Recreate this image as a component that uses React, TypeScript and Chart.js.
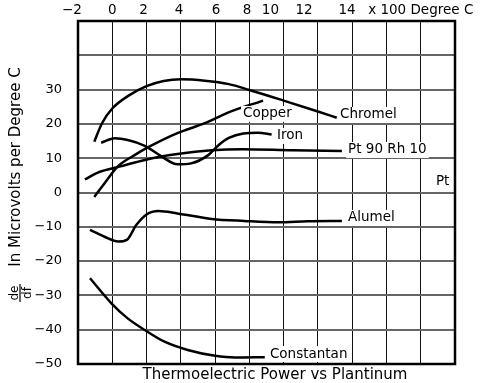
import React, { useEffect, useRef } from 'react';
import { Chart, registerables } from 'chart.js';

Chart.register(...registerables);

// ---- series values (x in 100 Degree C, y in microvolts per Degree C) ----
const chromelX = [-1.05, -0.6, 0, 1, 2, 3, 4, 5.4, 6.8, 8, 10, 12, 13.1];
const chromelY = [14.8, 20.2, 24.5, 28.4, 31.0, 32.5, 33.0, 32.6, 31.6, 29.9, 26.8, 23.6, 21.8];

const copperX = [-1.05, -0.45, 0.3, 1.3, 2.1, 3.8, 5.4, 6.75, 8.8];
const copperY = [-1.3, 2.7, 7.5, 10.9, 13.2, 17.3, 20.2, 23.3, 26.8];

const ironX = [-0.65, 0.15, 0.9, 1.9, 2.85, 3.8, 4.6, 5.6, 6.2, 6.8, 7.65, 8.5, 9.3];
const ironY = [14.5, 15.8, 15.3, 13.6, 10.6, 8.2, 8.5, 10.9, 13.8, 15.9, 17.2, 17.4, 16.9];

const ptRhX = [-1.6, -0.85, 0.55, 1.9, 3.8, 5.8, 7.6, 10.5, 13.4];
const ptRhY = [3.8, 5.8, 7.7, 9.5, 11.2, 12.3, 12.6, 12.3, 12.1];

const alumelX = [-1.3, -0.45, 0.35, 0.85, 1.4, 2.0, 2.7, 3.8, 5.8, 7.7, 9.7, 11.4, 13.4];
const alumelY = [-10.9, -12.9, -14.3, -13.8, -9.5, -6.4, -5.4, -6.1, -7.7, -8.3, -8.7, -8.4, -8.3];

const constantanX = [-1.3, -0.05, 0.9, 1.9, 3.05, 4.4, 6.0, 7.15, 8.9];
const constantanY = [-25.0, -32.3, -36.7, -40.1, -43.5, -45.9, -47.6, -48.1, -48.0];

// ---- tick labels ----
const yTickLabels = ['−50', '−40', '−30', '−20', '−10', '0', '10', '20', '30', '', ''];
const topTickLabels = ['−2', '0', '2', '4', '6', '8', '10', '12', '14', 'x 100 Degree C'];
const topTickValues = [-2.35, 0, 1.83, 3.89, 6.05, 7.86, 9.23, 11.19, 13.7, 18.0];

// ---- curve labels (text + data anchor) ----
const curveLabelText = ['Chromel', 'Copper', 'Iron', 'Pt 90 Rh 10', 'Pt', 'Alumel', 'Constantan'];
const curveLabelX = [13.29, 7.63, 9.61, 13.76, 18.89, 13.76, 9.2];
const curveLabelY = [22.6, 22.9, 16.5, 12.4, 3.35, -7.4, -47.1];

const xTitle = 'Thermoelectric Power vs Plantinum';
const yTitle = 'In Microvolts per Degree C';

const toPoints = (xs: number[], ys: number[]) => xs.map((x, i) => ({ x, y: ys[i] }));

const FONT = '"DejaVu Sans", sans-serif';

const overlay = {
  id: 'overlay',
  afterDatasetsDraw(chart: any) {
    const { ctx, chartArea: a, scales } = chart;
    const xs = scales.x;
    const ys = scales.y;
    ctx.save();
    // curve labels with white background
    ctx.font = `13.5px ${FONT}`;
    ctx.textBaseline = 'middle';
    ctx.textAlign = 'left';
    curveLabelText.forEach((t, i) => {
      const px = xs.getPixelForValue(curveLabelX[i]);
      const py = ys.getPixelForValue(curveLabelY[i]);
      const w = ctx.measureText(t).width;
      ctx.fillStyle = '#fff';
      ctx.fillRect(px - 2, py - 8, w + 4, 16);
      ctx.fillStyle = '#000';
      ctx.fillText(t, px, py);
    });
    // frame
    ctx.strokeStyle = '#000';
    ctx.lineWidth = 2.5;
    ctx.strokeRect(a.left, a.top, a.right - a.left, a.bottom - a.top);

    // top axis labels (x 100 Degree C)
    ctx.font = `13.5px ${FONT}`;
    ctx.textAlign = 'center';
    ctx.textBaseline = 'middle';
    ctx.fillStyle = '#000';
    topTickLabels.forEach((t, i) => {
      ctx.fillText(t, xs.getPixelForValue(topTickValues[i]), 10);
    });

    // x title
    ctx.font = `15px ${FONT}`;
    ctx.fillText(xTitle, 275, 375);

    // y title (rotated)
    ctx.save();
    ctx.translate(20, 167);
    ctx.rotate(-Math.PI / 2);
    ctx.textBaseline = 'alphabetic';
    ctx.fillText(yTitle, 0, 0);
    ctx.restore();

    // de/df fraction (rotated)
    ctx.save();
    ctx.translate(20, 293);
    ctx.rotate(-Math.PI / 2);
    ctx.font = `12px ${FONT}`;
    ctx.textAlign = 'center';
    ctx.textBaseline = 'alphabetic';
    ctx.fillText('de', 0, -2);
    ctx.textBaseline = 'top';
    ctx.fillText('df', 0, 1.5);
    ctx.lineWidth = 1.2;
    ctx.beginPath();
    ctx.moveTo(-9, 0);
    ctx.lineTo(9, 0);
    ctx.stroke();
    ctx.restore();

    ctx.restore();
  },
};

export default function App() {
  const ref = useRef<HTMLCanvasElement | null>(null);

  useEffect(() => {
    if (!ref.current) return;
    const line = (xs: number[], ys: number[]) => ({
      data: toPoints(xs, ys),
      borderColor: '#000',
      borderWidth: 2.5,
      pointRadius: 0,
      fill: false,
      cubicInterpolationMode: 'monotone' as const,
    });
    const chart = new Chart(ref.current, {
      type: 'line',
      data: {
        datasets: [
          line(chromelX, chromelY),
          line(copperX, copperY),
          line(ironX, ironY),
          line(ptRhX, ptRhY),
          line(alumelX, alumelY),
          line(constantanX, constantanY),
        ],
      },
      options: {
        responsive: false,
        animation: false,
        layout: { padding: { left: 0, top: 21, bottom: 0, right: 34 } },
        plugins: { legend: { display: false }, tooltip: { enabled: false }, title: { display: false } },
        scales: {
          x: {
            type: 'linear',
            position: 'bottom',
            min: -2,
            max: 20,
            ticks: { display: false, stepSize: 2 },
            grid: { color: '#111', lineWidth: 1, drawTicks: false },
            border: { display: false },
            afterFit: (s: any) => { s.height = 19; s.paddingLeft = 0; s.paddingRight = 0; },
          },
          y: {
            type: 'linear',
            min: -50,
            max: 50,
            ticks: {
              stepSize: 10,
              padding: 16,
              color: '#000',
              font: { family: 'DejaVu Sans', size: 13 },
              callback: (_v: any, i: number) => yTickLabels[i],
            },
            grid: { color: '#666', lineWidth: 2, drawTicks: false },
            border: { display: false },
            afterFit: (s: any) => { s.width = 78; s.paddingTop = 0; s.paddingBottom = 0; },
          },
        },
      },
      plugins: [overlay],
    } as any);
    return () => chart.destroy();
  }, []);

  return (
    <div style={{ position: 'fixed', left: 0, top: 0, width: 489, height: 383, background: '#fff' }}>
      <canvas ref={ref} width={489} height={383} style={{ display: 'block', width: 489, height: 383 }} />
    </div>
  );
}
